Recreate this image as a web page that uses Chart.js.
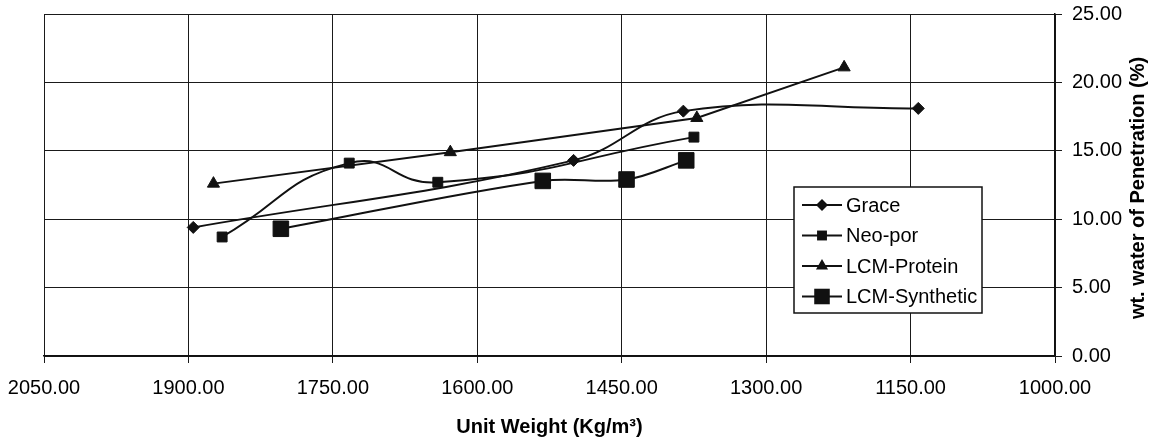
<!DOCTYPE html>
<html>
<head>
<meta charset="utf-8">
<title>Unit weight vs water penetration</title>
<script src="https://cdn.jsdelivr.net/npm/chart.js"></script>
<style>
    body { margin: 0; background: #fff; }
    #wrap { width: 1149px; height: 444px; }
</style>
</head>
<body>
<div id="wrap"><canvas id="penChart" width="1149" height="444"></canvas></div>
<script>
// values
const seriesNames = ['Grace', 'Neo-por', 'LCM-Protein', 'LCM-Synthetic'];

const graceWeight = [1895, 1500, 1386, 1142];
const graceWater  = [9.4, 14.3, 17.9, 18.1];

const neoporWeight = [1865, 1733, 1641, 1375];
const neoporWater  = [8.7, 14.1, 12.7, 16.0];

const proteinWeight = [1874, 1628, 1372, 1219];
const proteinWater  = [12.6, 14.9, 17.4, 21.1];

const syntheticWeight = [1804, 1532, 1445, 1383];
const syntheticWater  = [9.3, 12.8, 12.9, 14.3];

const xTicks = [2050, 1900, 1750, 1600, 1450, 1300, 1150, 1000];
const yTicks = [0, 5, 10, 15, 20, 25];

const ink = '#111';
const fontFamily = '"Liberation Sans", Arial, sans-serif';

function toPoints(xs, ys) {
    return xs.map((x, i) => ({ x: x, y: ys[i] }));
}

// marker shapes, used in the legend too
const markers = [
    { style: 'rectRot', radius: 6, tension: 0.4 },
    { style: 'rect', radius: 7, tension: 0.5 },
    { style: 'triangle', radius: 7, tension: 0 },
    { style: 'rect', radius: 11, tension: 0.35 }
];

const allWeights = [graceWeight, neoporWeight, proteinWeight, syntheticWeight];
const allWater = [graceWater, neoporWater, proteinWater, syntheticWater];

const datasets = seriesNames.map((name, i) => ({
    label: name,
    data: toPoints(allWeights[i], allWater[i]),
    borderColor: ink,
    backgroundColor: ink,
    borderWidth: 2,
    pointStyle: markers[i].style,
    pointRadius: markers[i].radius,
    pointBackgroundColor: ink,
    pointBorderColor: ink,
    pointBorderWidth: 1,
    tension: markers[i].tension,
    fill: false
}));

function drawMarker(ctx, style, r, x, y) {
    ctx.beginPath();
    if (style === 'rectRot') {
        ctx.moveTo(x - r, y);
        ctx.lineTo(x, y - r);
        ctx.lineTo(x + r, y);
        ctx.lineTo(x, y + r);
    } else if (style === 'triangle') {
        const h = r * 0.866;
        ctx.moveTo(x, y - r);
        ctx.lineTo(x + h, y + r / 2);
        ctx.lineTo(x - h, y + r / 2);
    } else {
        const s = r * Math.SQRT1_2;
        ctx.rect(x - s, y - s, 2 * s, 2 * s);
    }
    ctx.closePath();
    ctx.fill();
}

// legend box sits inside the plot, lower right
const boxLegend = {
    id: 'boxLegend',
    afterDatasetsDraw(chart) {
        const ctx = chart.ctx;
        const area = chart.chartArea;
        const left = area.right - 261;
        const top = area.top + 173;
        const w = 188, h = 126;
        ctx.save();
        ctx.fillStyle = '#fff';
        ctx.fillRect(left, top, w, h);
        ctx.strokeStyle = ink;
        ctx.lineWidth = 1.5;
        ctx.strokeRect(left, top, w, h);
        ctx.font = '20px ' + fontFamily;
        ctx.textBaseline = 'middle';
        seriesNames.forEach((name, i) => {
            const y = top + 18 + i * 30.5;
            ctx.strokeStyle = ink;
            ctx.lineWidth = 2;
            ctx.beginPath();
            ctx.moveTo(left + 8, y);
            ctx.lineTo(left + 48, y);
            ctx.stroke();
            ctx.fillStyle = ink;
            drawMarker(ctx, markers[i].style, markers[i].radius, left + 28, y);
            ctx.fillStyle = '#000';
            ctx.fillText(name, left + 52, y + 1);
        });
        ctx.restore();
    }
};

// right axis title reads bottom to top
const rightTitle = {
    id: 'rightTitle',
    afterDraw(chart) {
        const ctx = chart.ctx;
        const area = chart.chartArea;
        ctx.save();
        ctx.translate(1138, (area.top + area.bottom) / 2 + 3);
        ctx.rotate(-Math.PI / 2);
        ctx.font = 'bold 20px ' + fontFamily;
        ctx.fillStyle = '#000';
        ctx.textAlign = 'center';
        ctx.textBaseline = 'middle';
        ctx.fillText('wt. water of Penetration (%)', 0, 0);
        ctx.restore();
    }
};

const gridStyle = {
    color: '#1a1a1a',
    lineWidth: 1,
    tickLength: 7,
    tickColor: '#1a1a1a',
    drawTicks: true
};

new Chart(document.getElementById('penChart'), {
    type: 'line',
    data: { datasets: datasets },
    options: {
        responsive: false,
        animation: false,
        layout: { padding: { left: 44, top: 14, right: 0, bottom: 0 } },
        scales: {
            x: {
                type: 'linear',
                reverse: true,
                min: 1000,
                max: 2050,
                afterBuildTicks: s => { s.ticks = xTicks.map(v => ({ value: v })); },
                afterFit: s => {
                    s.height = 88;
                    s.paddingLeft = 0;
                    s.paddingRight = 0;
                },
                grid: gridStyle,
                border: { display: true, color: ink, width: 1.5 },
                ticks: {
                    color: '#000',
                    padding: 13,
                    maxRotation: 0,
                    font: { family: fontFamily, size: 20 },
                    callback: v => Number(v).toFixed(2)
                },
                title: {
                    display: true,
                    text: 'Unit Weight (Kg/m³)',
                    color: '#000',
                    font: { family: fontFamily, size: 20, weight: 'bold' },
                    padding: { top: 4, bottom: 5 }
                }
            },
            y: {
                position: 'right',
                min: 0,
                max: 25,
                afterBuildTicks: s => { s.ticks = yTicks.map(v => ({ value: v })); },
                afterFit: s => {
                    s.width = 94;
                    s.paddingTop = 0;
                    s.paddingBottom = 0;
                },
                grid: gridStyle,
                border: { display: true, color: ink, width: 1.5 },
                ticks: {
                    color: '#000',
                    padding: 10,
                    font: { family: fontFamily, size: 20 },
                    callback: v => Number(v).toFixed(2)
                }
            }
        },
        plugins: {
            legend: { display: false },
            tooltip: { enabled: false }
        }
    },
    plugins: [boxLegend, rightTitle]
});
</script>
</body>
</html>
